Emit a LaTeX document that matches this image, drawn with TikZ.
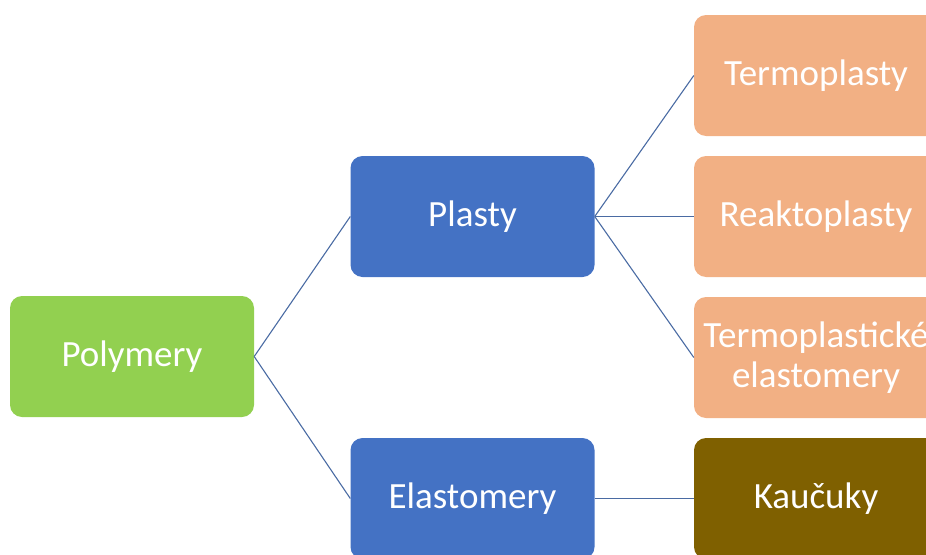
\documentclass[tikz,border=0pt]{standalone}
\usepackage{fontspec}
\setmainfont{Carlito}
\definecolor{cgreen}{HTML}{92D050}
\definecolor{cblue}{HTML}{4472C4}
\definecolor{cpeach}{HTML}{F2B084}
\definecolor{cbrown}{HTML}{7F6000}
\definecolor{cline}{HTML}{4A6BA3}
\begin{document}
\begin{tikzpicture}[x=1pt,y=-1pt,
  box/.style={rounded corners=12pt, minimum width=244pt, minimum height=121pt, inner sep=0pt,
    text=white, align=center, font=\fontsize{37}{40}\selectfont},
  link/.style={draw=cline, line width=1.1pt}]
\useasboundingbox (0,0) rectangle (926,554);
\clip (0,0) rectangle (926,554);
\node[box, fill=cgreen] (poly) at (132,356.5) {Polymery};
\node[box, fill=cblue] (plasty) at (472.5,216.5) {Plasty};
\node[box, fill=cblue] (elast) at (472.5,498.5) {Elastomery};
\node[box, fill=cpeach] (termo) at (816,75.5) {Termoplasty};
\node[box, fill=cpeach] (reakto) at (816,216.5) {Reaktoplasty};
\node[box, fill=cpeach] (tpe) at (816,357.5) {Termoplastické\\elastomery};
\node[box, fill=cbrown] (kauc) at (816,498.5) {Kaučuky};
\draw[link] (poly.east) -- (plasty.west);
\draw[link] (poly.east) -- (elast.west);
\draw[link] (plasty.east) -- (termo.west);
\draw[link] (plasty.east) -- (reakto.west);
\draw[link] (plasty.east) -- (tpe.west);
\draw[link] (elast.east) -- (kauc.west);
\end{tikzpicture}
\end{document}
